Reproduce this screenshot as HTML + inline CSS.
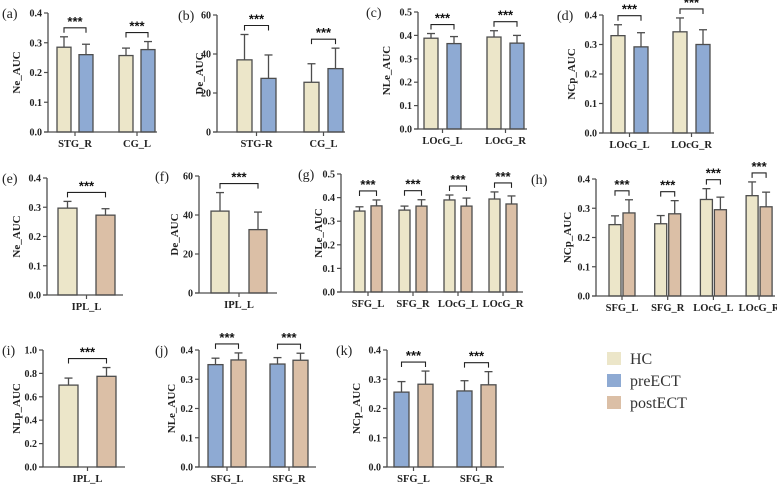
<!DOCTYPE html>
<html><head><meta charset="utf-8">
<style>
html,body{margin:0;padding:0;background:#fff;}
svg, svg text{font-family:"Liberation Serif","DejaVu Serif","Times New Roman",serif;}
svg text.stars{font-family:"Liberation Sans","DejaVu Sans",sans-serif;}
</style></head>
<body>
<svg id="chart" width="777" height="488" viewBox="0 0 777 488"></svg>
<script>
// ---- data arrays ----
const aCats=["STG_R","CG_L"]; const aMean1=[0.285,0.257]; const aErr1=[0.035,0.025]; const aMean2=[0.260,0.277]; const aErr2=[0.035,0.027]; const aTicks=["0.0","0.1","0.2","0.3","0.4"];
const bCats=["STG-R","CG_L"]; const bMean1=[37,25.5]; const bErr1=[13,9.5]; const bMean2=[27.5,32.5]; const bErr2=[12,10.5]; const bTicks=["0","20","40","60"];
const cCats=["LOcG_L","LOcG_R"]; const cMean1=[0.388,0.393]; const cErr1=[0.02,0.027]; const cMean2=[0.365,0.367]; const cErr2=[0.03,0.033]; const cTicks=["0.0","0.1","0.2","0.3","0.4","0.5"];
const dCats=["LOcG_L","LOcG_R"]; const dMean1=[0.33,0.343]; const dErr1=[0.037,0.047]; const dMean2=[0.292,0.30]; const dErr2=[0.048,0.05]; const dTicks=["0.0","0.1","0.2","0.3","0.4"];
const eCats=["IPL_L"]; const eMean1=[0.297]; const eErr1=[0.023]; const eMean2=[0.273]; const eErr2=[0.022]; const eTicks=["0.0","0.1","0.2","0.3","0.4"];
const fCats=["IPL_L"]; const fMean1=[42]; const fErr1=[9.5]; const fMean2=[32.5]; const fErr2=[9]; const fTicks=["0","20","40","60"];
const gCats=["SFG_L","SFG_R","LOcG_L","LOcG_R"]; const gMean1=[0.343,0.347,0.39,0.394]; const gErr1=[0.018,0.017,0.021,0.03]; const gMean2=[0.365,0.364,0.364,0.373]; const gErr2=[0.025,0.027,0.034,0.034]; const gTicks=["0.0","0.1","0.2","0.3","0.4","0.5"];
const hCats=["SFG_L","SFG_R","LOcG_L","LOcG_R"]; const hMean1=[0.244,0.247,0.33,0.343]; const hErr1=[0.03,0.028,0.037,0.047]; const hMean2=[0.284,0.281,0.295,0.305]; const hErr2=[0.045,0.045,0.043,0.05]; const hTicks=["0.0","0.1","0.2","0.3","0.4"];
const iCats=["IPL_L"]; const iMean1=[0.70]; const iErr1=[0.06]; const iMean2=[0.775]; const iErr2=[0.075]; const iTicks=["0.0","0.2","0.4","0.6","0.8","1.0"];
const jCats=["SFG_L","SFG_R"]; const jMean1=[0.35,0.352]; const jErr1=[0.022,0.022]; const jMean2=[0.366,0.365]; const jErr2=[0.024,0.024]; const jTicks=["0.0","0.1","0.2","0.3","0.4"];
const kCats=["SFG_L","SFG_R"]; const kMean1=[0.256,0.26]; const kErr1=[0.036,0.035]; const kMean2=[0.283,0.281]; const kErr2=[0.045,0.045]; const kTicks=["0.0","0.1","0.2","0.3","0.4"];
const legendLabels=["HC","preECT","postECT"];

const HC="#ece6c9", PRE="#8eaad3", POST="#dbbfa6", STROKE="#4d4d4d";
const panels=[
 {id:"a",title:"Ne_AUC",cats:aCats,m1:aMean1,e1:aErr1,m2:aMean2,e2:aErr2,ticks:aTicks,c1:HC,c2:PRE,ax:48,top:13,bot:132,end:157,left:57,bw:14,ps:22,gs:62,lx:2,tx:20},
 {id:"b",title:"De_AUC",cats:bCats,m1:bMean1,e1:bErr1,m2:bMean2,e2:bErr2,ticks:bTicks,c1:HC,c2:PRE,ax:217,top:15,bot:132,end:345,left:237,bw:15,ps:24,gs:67,lx:178,tx:203},
 {id:"c",title:"NLe_AUC",cats:cCats,m1:cMean1,e1:cErr1,m2:cMean2,e2:cErr2,ticks:cTicks,c1:HC,c2:PRE,ax:418,top:12,bot:129,end:527,left:424,bw:14,ps:23,gs:63,lx:366,tx:390},
 {id:"d",title:"NCp_AUC",cats:dCats,m1:dMean1,e1:dErr1,m2:dMean2,e2:dErr2,ticks:dTicks,c1:HC,c2:PRE,ax:603,top:15,bot:133,end:714,left:611,bw:14,ps:23,gs:62,lx:557,tx:575},
 {id:"e",title:"Ne_AUC",cats:eCats,m1:eMean1,e1:eErr1,m2:eMean2,e2:eErr2,ticks:eTicks,c1:HC,c2:POST,ax:47,top:178,bot:295,end:123,left:58,bw:19,ps:38,gs:0,lx:2,tx:20},
 {id:"f",title:"De_AUC",cats:fCats,m1:fMean1,e1:fErr1,m2:fMean2,e2:fErr2,ticks:fTicks,c1:HC,c2:POST,ax:199,top:176,bot:293,end:277,left:211,bw:18,ps:38,gs:0,lx:155,tx:178},
 {id:"g",title:"NLe_AUC",cats:gCats,m1:gMean1,e1:gErr1,m2:gMean2,e2:gErr2,ticks:gTicks,c1:HC,c2:POST,ax:341,top:174,bot:292,end:523,left:354,bw:11,ps:17,gs:45,lx:298,tx:322},
 {id:"h",title:"NCp_AUC",cats:hCats,m1:hMean1,e1:hErr1,m2:hMean2,e2:hErr2,ticks:hTicks,c1:HC,c2:POST,ax:596,top:179,bot:296,end:775,left:609,bw:12,ps:14,gs:45.7,lx:531,tx:571},
 {id:"i",title:"NLp_AUC",cats:iCats,m1:iMean1,e1:iErr1,m2:iMean2,e2:iErr2,ticks:iTicks,c1:HC,c2:POST,ax:43,top:350,bot:467,end:125,left:59,bw:19,ps:38,gs:0,lx:2,tx:20},
 {id:"j",title:"NLe_AUC",cats:jCats,m1:jMean1,e1:jErr1,m2:jMean2,e2:jErr2,ticks:jTicks,c1:PRE,c2:POST,ax:199,top:350,bot:467,end:316,left:208,bw:15,ps:23,gs:62,lx:155,tx:175},
 {id:"k",title:"NCp_AUC",cats:kCats,m1:kMean1,e1:kErr1,m2:kMean2,e2:kErr2,ticks:kTicks,c1:PRE,c2:POST,ax:387,top:350,bot:467,end:504,left:394,bw:15,ps:24,gs:63,lx:336,tx:360}
];
const NS="http://www.w3.org/2000/svg";
const svg=document.getElementById("chart");
function mk(tag,attrs,parent){const e=document.createElementNS(NS,tag);for(const k in attrs)e.setAttribute(k,attrs[k]);(parent||svg).appendChild(e);return e;}

panels.forEach(p=>{
  const g=mk("g",{});
  
  
  const tmin=parseFloat(p.ticks[0]), tmax=parseFloat(p.ticks[p.ticks.length-1]);
  const y=v=>p.bot-(v-tmin)/(tmax-tmin)*(p.bot-p.top);
  const pl=mk("text",{x:p.lx,y:p.top+5,"font-size":14,fill:"#222"},g);
  pl.textContent="("+p.id+")";
  
  
  const yt=mk("text",{x:p.tx,y:(p.top+p.bot)/2,"font-size":11,"font-weight":"bold",fill:"#222","text-anchor":"middle",transform:"rotate(-90 "+p.tx+" "+((p.top+p.bot)/2)+")"},g);
  yt.textContent=p.title;
  
  
  p.cats.forEach((c,i)=>{
    const x1=p.left+i*p.gs, x2=x1+p.ps;
    [[x1,p.m1[i],p.e1[i],p.c1,"s1"],[x2,p.m2[i],p.e2[i],p.c2,"s2"]].forEach(([bx,m,e,col,s])=>{
      const cx=bx+p.bw/2;
      const el=mk("line",{x1:cx,x2:cx,y1:y(m),y2:y(m+e),stroke:STROKE,"stroke-width":1.3},g);
      
      
      const cap=mk("line",{x1:cx-4,x2:cx+4,y1:y(m+e),y2:y(m+e),stroke:STROKE,"stroke-width":1.3},g);
      
      
      const r=mk("rect",{x:bx,y:y(m),width:p.bw,height:p.bot-y(m),fill:col,stroke:STROKE,"stroke-width":1.3},g);
      
      
    });
    const c1=x1+p.bw/2, c2=x2+p.bw/2;
    const by=Math.min(y(p.m1[i]+p.e1[i]),y(p.m2[i]+p.e2[i]))-9;
    const br=mk("path",{d:"M"+c1+" "+(by+5)+"V"+by+"H"+c2+"V"+(by+5),fill:"none",stroke:"#222","stroke-width":1.1},g);
    
    
    const st=mk("text",{x:(c1+c2)/2,y:by-2,"font-size":13,"font-weight":"bold","text-anchor":"middle",fill:"#111","class":"stars"},g);
    st.textContent="***";
    
    
    const gc=(c1+c2)/2;
    const tk=mk("line",{x1:gc,x2:gc,y1:p.bot,y2:p.bot+4,stroke:STROKE,"stroke-width":1.2},g);
    
    
    const cl=mk("text",{x:gc,y:p.bot+15,"font-size":10.5,"font-weight":"bold","text-anchor":"middle",fill:"#222"},g);
    cl.textContent=c;
    
    
  });
  const ya=mk("line",{x1:p.ax,x2:p.ax,y1:p.top,y2:p.bot,stroke:STROKE,"stroke-width":1.3},g);
  
  
  const xa=mk("line",{x1:p.ax-4,x2:p.end,y1:p.bot,y2:p.bot,stroke:STROKE,"stroke-width":1.3},g);
  
  
  p.ticks.forEach((t,k)=>{
    const ty=y(parseFloat(t));
    const tl=mk("line",{x1:p.ax-4,x2:p.ax,y1:ty,y2:ty,stroke:STROKE,"stroke-width":1.2},g);
    
    
    const tt=mk("text",{x:p.ax-6,y:ty+3.5,"font-size":10,"font-weight":"bold","text-anchor":"end",fill:"#222"},g);
    tt.textContent=t;
    
    
  });
});

const legCols=[HC,PRE,POST];
legendLabels.forEach((l,i)=>{
  const r=mk("rect",{x:607,y:352+i*22,width:14,height:13,fill:legCols[i]});
  
  
  const t=mk("text",{x:630,y:364+i*22,"font-size":16,fill:"#333"});
  t.textContent=l;
  
  
});
</script>
</body></html>
